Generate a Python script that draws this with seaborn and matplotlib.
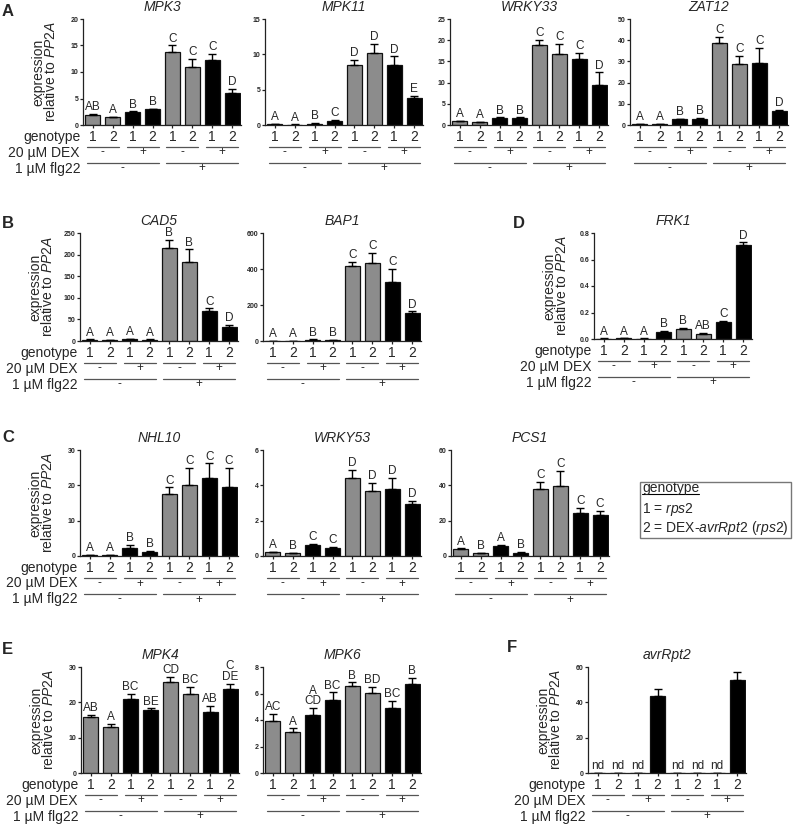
import numpy as np
import pandas as pd
import matplotlib
matplotlib.use('Agg')
import matplotlib.pyplot as plt
import matplotlib.transforms as mtransforms
from matplotlib.lines import Line2D
from matplotlib.patches import Rectangle
import seaborn as sns

sns.set_style('ticks')
plt.rcParams['font.family'] = ['Liberation Sans', 'DejaVu Sans']
plt.rcParams['mathtext.fontset'] = 'custom'
plt.rcParams['mathtext.rm'] = 'Liberation Sans'
plt.rcParams['mathtext.it'] = 'Liberation Sans:italic'
plt.rcParams['mathtext.bf'] = 'Liberation Sans:bold'

# ---------------- data ----------------
genotype = ['1', '2', '1', '2', '1', '2', '1', '2']
dex_signs = ['-', '+', '-', '+']
flg22_signs = ['-', '+']
conditions = ['g1_d0_f0', 'g2_d0_f0', 'g1_d1_f0', 'g2_d1_f0',
              'g1_d0_f1', 'g2_d0_f1', 'g1_d1_f1', 'g2_d1_f1']
dex_of_bar = ['-', '-', '+', '+', '-', '-', '+', '+']

mpk3_mean = [1.95, 1.5, 2.4, 2.95, 13.8, 10.9, 12.2, 6.1]
mpk3_err = [0.1, 0.1, 0.15, 0.15, 1.2, 1.5, 1.2, 0.7]
mpk3_letters = ['AB', 'A', 'B', 'B', 'C', 'C', 'C', 'D']

mpk11_mean = [0.1, 0.07, 0.2, 0.6, 8.45, 10.15, 8.55, 3.8]
mpk11_err = [0.03, 0.02, 0.05, 0.08, 0.75, 1.35, 1.15, 0.35]
mpk11_letters = ['A', 'A', 'B', 'C', 'D', 'D', 'D', 'E']

wrky33_mean = [0.95, 0.7, 1.7, 1.7, 18.8, 16.7, 15.6, 9.5]
wrky33_err = [0.1, 0.1, 0.1, 0.1, 1.2, 2.4, 1.4, 2.9]
wrky33_letters = ['A', 'A', 'B', 'B', 'C', 'C', 'C', 'D']

zat12_mean = [0.5, 0.4, 2.7, 2.9, 38.7, 28.6, 29.3, 6.5]
zat12_err = [0.1, 0.1, 0.2, 0.3, 2.7, 4.1, 7.2, 0.8]
zat12_letters = ['A', 'A', 'B', 'B', 'C', 'C', 'C', 'D']

cad5_mean = [3, 2, 4, 3, 215, 182, 69, 32.6]
cad5_err = [0.5, 0.5, 0.8, 0.5, 19, 30, 6.5, 5.5]
cad5_letters = ['A', 'A', 'A', 'A', 'B', 'B', 'C', 'D']

bap1_mean = [2, 2, 8, 6, 414, 432, 328, 153]
bap1_err = [0.5, 0.5, 1, 1, 24, 56, 71, 11]
bap1_letters = ['A', 'A', 'B', 'B', 'C', 'C', 'C', 'D']

frk1_mean = [0.003, 0.004, 0.003, 0.053, 0.073, 0.04, 0.129, 0.706]
frk1_err = [0.001, 0.001, 0.001, 0.005, 0.008, 0.006, 0.005, 0.023]
frk1_letters = ['A', 'A', 'A', 'B', 'B', 'AB', 'C', 'D']

nhl10_mean = [0.2, 0.2, 2.4, 1.2, 17.6, 20.1, 22.1, 19.5]
nhl10_err = [0.05, 0.05, 0.8, 0.3, 1.8, 4.9, 4.1, 5.5]
nhl10_letters = ['A', 'A', 'B', 'B', 'C', 'C', 'C', 'C']

wrky53_mean = [0.21, 0.15, 0.62, 0.47, 4.4, 3.7, 3.77, 2.92]
wrky53_err = [0.02, 0.02, 0.06, 0.03, 0.47, 0.42, 0.63, 0.2]
wrky53_letters = ['A', 'B', 'C', 'C', 'D', 'D', 'D', 'D']

pcs1_mean = [4.0, 1.7, 5.7, 1.9, 37.7, 39.6, 24.4, 23.4]
pcs1_err = [0.3, 0.2, 0.4, 0.2, 4.2, 8.6, 3.0, 2.1]
pcs1_letters = ['A', 'B', 'A', 'B', 'C', 'C', 'C', 'C']

mpk4_mean = [15.9, 12.9, 20.9, 17.8, 25.7, 22.4, 17.2, 23.8]
mpk4_err = [0.6, 0.9, 1.4, 0.5, 1.5, 1.9, 1.8, 1.5]
mpk4_letters = ['AB', 'A', 'BC', 'BE', 'CD', 'BC', 'AB', 'C\nDE']

mpk6_mean = [3.95, 3.06, 4.38, 5.54, 6.53, 6.03, 4.94, 6.7]
mpk6_err = [0.48, 0.31, 0.51, 0.54, 0.31, 0.45, 0.5, 0.46]
mpk6_letters = ['AC', 'A', 'A\nCD', 'BC', 'B', 'BD', 'BC', 'B']

avr_mean = [0, 0, 0, 43.7, 0, 0, 0, 52.4]
avr_err = [0, 0, 0, 4.0, 0, 0, 0, 4.8]
avr_letters = ['nd', 'nd', 'nd', '', 'nd', 'nd', 'nd', '']

# ---------------- figure ----------------
W, H = 793, 824
fig = plt.figure(figsize=(W / 100, H / 100), dpi=100)
GRAY = '#8c8c8c'
AXW = 158  # px

panels = [
    # name, mean, err, letters, ymax, step, fmt, left, top, bottom, labels
    ('MPK3', mpk3_mean, mpk3_err, mpk3_letters, 20, 5, '{:.0f}', 83, 19, 125, True),
    ('MPK11', mpk11_mean, mpk11_err, mpk11_letters, 15, 5, '{:.0f}', 265, 19, 125, False),
    ('WRKY33', wrky33_mean, wrky33_err, wrky33_letters, 25, 5, '{:.0f}', 450, 19, 125, False),
    ('ZAT12', zat12_mean, zat12_err, zat12_letters, 50, 10, '{:.0f}', 630, 19, 125, False),
    ('CAD5', cad5_mean, cad5_err, cad5_letters, 250, 50, '{:.0f}', 80, 233, 341, True),
    ('BAP1', bap1_mean, bap1_err, bap1_letters, 600, 200, '{:.0f}', 263, 233, 341, False),
    ('FRK1', frk1_mean, frk1_err, frk1_letters, 0.8, 0.2, '{:.1f}', 594, 233, 339, True),
    ('NHL10', nhl10_mean, nhl10_err, nhl10_letters, 30, 10, '{:.0f}', 80, 450, 556, True),
    ('WRKY53', wrky53_mean, wrky53_err, wrky53_letters, 6, 2, '{:.0f}', 263, 450, 556, False),
    ('PCS1', pcs1_mean, pcs1_err, pcs1_letters, 60, 20, '{:.0f}', 451, 450, 556, False),
    ('MPK4', mpk4_mean, mpk4_err, mpk4_letters, 30, 10, '{:.0f}', 81, 667, 773, True),
    ('MPK6', mpk6_mean, mpk6_err, mpk6_letters, 8, 2, '{:.0f}', 263, 667, 773, False),
    ('avrRpt2', avr_mean, avr_err, avr_letters, 60, 20, '{:.0f}', 588, 667, 773, True),
]

palette = {c: (GRAY if d == '-' else 'black') for c, d in zip(conditions, dex_of_bar)}
LINE_C = '#555555'


def below(ax, px, xdata=True):
    base = mtransforms.blended_transform_factory(ax.transData if xdata else ax.transAxes, ax.transAxes)
    return base + mtransforms.ScaledTranslation(0, -px / 100.0, fig.dpi_scale_trans)


for (name, mean, err, letters, ymax, step, fmt, left, top, bottom, labels) in panels:
    ax = fig.add_axes([left / W, 1 - bottom / H, AXW / W, (bottom - top) / H])
    df = pd.DataFrame({'cond': conditions, 'value': mean})
    sns.barplot(data=df, x='cond', y='value', hue='cond', order=conditions,
                hue_order=conditions, palette=palette, legend=False,
                width=0.75, edgecolor='#111111', linewidth=0.9,
                errorbar=None, ax=ax)
    centers = [p.get_x() + p.get_width() / 2 for p in ax.patches]
    tops = [p.get_height() for p in ax.patches]
    yerr = np.array([np.zeros(len(err)), np.array(err)])
    ax.errorbar(centers, tops, yerr=yerr, fmt='none', ecolor='black',
                elinewidth=1.0, capsize=2.8, capthick=1.0, zorder=1)
    ax.set_xlim(-0.5, 7.45)
    ax.set_ylim(0, ymax)
    yt = np.round(np.arange(0, ymax + step / 2, step), 6)
    ax.set_yticks(yt)
    ax.set_yticklabels([fmt.format(v) for v in yt], fontsize=5, fontweight='bold')
    ax.set_xticks(centers)
    ax.set_xticklabels(genotype, fontsize=10)
    ax.tick_params(axis='x', length=2.2, width=0.9, pad=1.3, color='#222222')
    ax.tick_params(axis='y', length=2.2, width=0.9, pad=1.0, color='#222222')
    for s in ['top', 'right']:
        ax.spines[s].set_visible(False)
    for s in ['left', 'bottom']:
        ax.spines[s].set_linewidth(0.9)
        ax.spines[s].set_color('#222222')
    ax.set_xlabel('')
    ax.set_ylabel('')
    ax.set_title(name, style='italic', fontsize=10, pad=5.5)

    # significance letters
    for c, t, e, l in zip(centers, tops, err, letters):
        if l:
            ax.annotate(l, xy=(c, t + e), xycoords='data', xytext=(0, 0.6),
                        textcoords='offset points', ha='center', va='bottom',
                        fontsize=8.5, linespacing=0.85, annotation_clip=False)

    # treatment lines
    for i in range(4):
        x0 = centers[2 * i] - 0.3
        x1 = centers[2 * i + 1] + 0.3
        ax.add_line(Line2D([x0, x1], [0, 0], transform=below(ax, 22), color=LINE_C,
                           lw=0.9, clip_on=False))
        ax.text((centers[2 * i] + centers[2 * i + 1]) / 2, 0, dex_signs[i],
                transform=below(ax, 27.5), ha='center', va='center', fontsize=8.5)
    for j in range(2):
        x0 = centers[4 * j] - 0.3
        x1 = centers[4 * j + 3] + 0.3
        ax.add_line(Line2D([x0, x1], [0, 0], transform=below(ax, 38), color=LINE_C,
                           lw=0.9, clip_on=False))
        ax.text((centers[4 * j + 1] + centers[4 * j + 2]) / 2, 0, flg22_signs[j],
                transform=below(ax, 43.5), ha='center', va='center', fontsize=8.5)

    if labels:
        ax.set_ylabel('expression\nrelative to $\\mathit{PP2A}$', fontsize=10,
                      linespacing=0.8)
        ax.yaxis.set_label_coords(-25 / AXW, 0.5)
        lt = ax.transAxes + mtransforms.ScaledTranslation(-2 / 100, 0, fig.dpi_scale_trans)
        ax.annotate('genotype', xy=(0, 0), xycoords=lt, xytext=(0, -3.5),
                    textcoords='offset points', ha='right', va='top', fontsize=10,
                    annotation_clip=False)
        ax.text(0, 0, '20 µM DEX', transform=below(ax, 27.5, False) +
                mtransforms.ScaledTranslation(-3 / 100, 0, fig.dpi_scale_trans),
                ha='right', va='center', fontsize=10)
        ax.text(0, 0, '1 µM flg22', transform=below(ax, 43.5, False) +
                mtransforms.ScaledTranslation(-2 / 100, 0, fig.dpi_scale_trans),
                ha='right', va='center', fontsize=10)

# panel letters
for lab, x, y in [('A', 2, 12), ('B', 2, 223), ('D', 513, 223), ('C', 2, 437),
                  ('E', 2, 650), ('F', 507, 648)]:
    fig.text(x / W, 1 - y / H, lab, fontsize=12, fontweight='bold',
             ha='left', va='center')

# genotype legend box
fig.patches.append(Rectangle((640 / W, 1 - 538 / H), 151 / W, 56 / H,
                             transform=fig.transFigure, fill=False,
                             edgecolor='#777777', lw=1.0))
t_g = fig.text(642 / W, 1 - 488 / H, 'genotype', fontsize=10, ha='left', va='center')
fig.text(642 / W, 1 - 509 / H, '1 = $\\mathit{rps2}$', fontsize=10, ha='left', va='center')
fig.text(642 / W, 1 - 528 / H, '2 = DEX-$\\mathit{avrRpt2}$ ($\\mathit{rps2}$)',
         fontsize=10, ha='left', va='center')
fig.canvas.draw()
bb = t_g.get_window_extent()
uy = 1 - 494 / H
fig.lines.append(Line2D([bb.x0 / W, bb.x1 / W], [uy, uy], transform=fig.transFigure,
                        color='black', lw=0.8))

fig.savefig('out.png', dpi=100)
